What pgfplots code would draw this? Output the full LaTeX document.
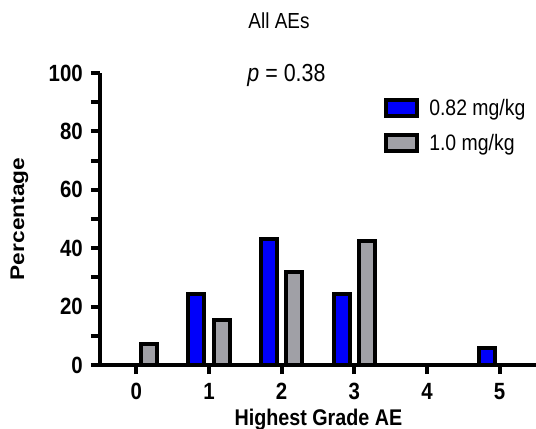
\documentclass[border=0pt]{standalone}
\usepackage{fontspec}
\setmainfont{Liberation Sans}
\usepackage{graphicx}
\usepackage{pgfplots}
\pgfplotsset{compat=1.18}
\definecolor{barblue}{RGB}{0,0,250}
\definecolor{bargray}{RGB}{160,160,166}
\newcommand{\vs}[1]{\scalebox{1}[1.15]{#1}}
\begin{document}
\begin{tikzpicture}
\useasboundingbox (-100bp,-64bp) rectangle (436bp,365bp);
\begin{axis}[
  scale only axis, width=436bp, height=292bp,
  xmin=-0.5, xmax=5.5, ymin=0, ymax=100,
  axis lines=left,
  axis line style={-, line width=4bp, black},
  every tick/.style={black, line width=4bp},
  tick align=outside,
  major tick length=9bp, minor tick length=9bp,
  xtick={0,1,2,3,4,5},
  xticklabels={\vs{0},\vs{1},\vs{2},\vs{3},\vs{4},\vs{5}},
  ytick={0,20,40,60,80,100},
  yticklabels={\vs{0},\vs{20},\vs{40},\vs{60},\vs{80},\vs{100}},
  minor ytick={10,30,50,70,90},
  tick label style={font=\fontsize{20.5}{22}\selectfont\bfseries},
  xticklabel style={anchor=base, yshift=-25bp, inner sep=0pt},
  yticklabel style={anchor=east, xshift=-8bp, inner sep=0pt},
  xlabel={\vs{Highest Grade AE}},
  ylabel={\scalebox{1.15}[1]{Percentage}},
  label style={font=\fontsize{19.8}{23}\selectfont\bfseries},
  xlabel style={at={(axis description cs:0.501,0)}, anchor=base, yshift=-60bp, inner sep=0pt},
  ylabel style={at={(axis description cs:-0.185,0.5)}, anchor=center, inner sep=0pt},
  legend image code/.code={\draw[#1, line width=4bp] (0bp,-8bp) rectangle (31bp,8bp);},
  legend style={draw=none, fill=none, at={(rel axis cs:0.652,0.917)}, anchor=north west,
    font=\fontsize{19.5}{22}\selectfont, inner sep=0pt, outer sep=0pt, row sep=13bp,
    nodes={inner sep=2bp},
    /tikz/every odd column/.append style={column sep=8bp}},
  legend cell align=left,
  clip=false,
]
\addplot[ybar, bar width=16bp, bar shift=-12.7bp, fill=barblue, draw=black, line width=4bp]
  coordinates {(1,24.3) (2,43.0) (3,24.3) (5,5.8)};
\addlegendentry{\vs{0.82 mg/kg}}
\addplot[ybar, bar width=16bp, bar shift=12.7bp, fill=bargray, draw=black, line width=4bp]
  coordinates {(0,7.1) (1,15.4) (2,31.7) (3,42.3)};
\addlegendentry{\vs{1.0 mg/kg}}
\end{axis}
\node[anchor=base, font=\fontsize{19}{20}\selectfont, inner sep=0pt] at (179bp,336bp) {\vs{All AEs}};
\node[anchor=base, font=\fontsize{21.5}{22}\selectfont, inner sep=0pt] at (186.5bp,283bp) {\vs{\textit{p} = 0.38}};
\end{tikzpicture}
\end{document}
